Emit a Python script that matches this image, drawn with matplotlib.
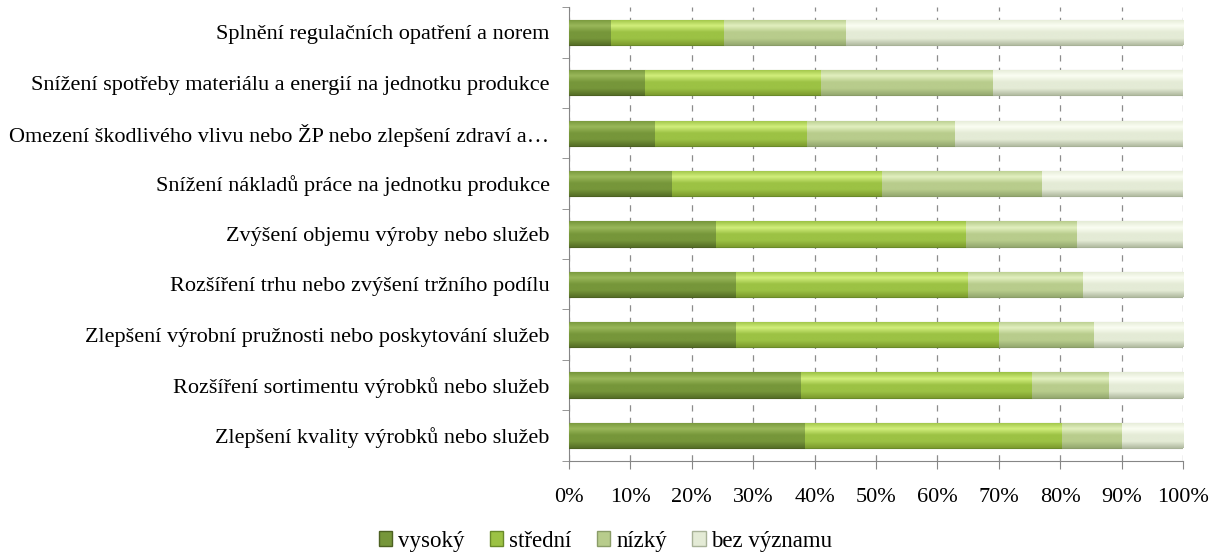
import numpy as np
import matplotlib
matplotlib.use("Agg")
import matplotlib.pyplot as plt
from matplotlib.colors import LinearSegmentedColormap
from matplotlib.patches import Patch

plt.rcParams['font.family'] = ['Liberation Serif', 'DejaVu Serif']

# categories from bottom to top
categories = [
    "Zlepšení kvality výrobků nebo služeb",
    "Rozšíření sortimentu výrobků nebo služeb",
    "Zlepšení výrobní pružnosti nebo poskytování služeb",
    "Rozšíření trhu nebo zvýšení tržního podílu",
    "Zvýšení objemu výroby nebo služeb",
    "Snížení nákladů práce na jednotku produkce",
    "Omezení škodlivého vlivu nebo ŽP nebo zlepšení zdraví a…",
    "Snížení spotřeby materiálu a energií na jednotku produkce",
    "Splnění regulačních opatření a norem",
]
vysoky = [38.4, 37.7, 27.2, 27.2, 24.0, 16.8, 14.0, 12.4, 6.8]
stredni = [41.9, 37.7, 42.8, 37.8, 40.7, 34.2, 24.7, 28.7, 18.5]
nizky = [9.7, 12.5, 15.5, 18.7, 18.1, 26.1, 24.2, 28.0, 19.8]
bez_vyznamu = [10.0, 12.1, 14.5, 16.3, 17.2, 22.9, 37.1, 30.9, 54.9]

series = [vysoky, stredni, nizky, bez_vyznamu]
labels = ["vysoký", "střední", "nízký", "bez významu"]
# (bottom, middle, top highlight) colours per series
shades = [
    ("#566f27", "#76963a", "#9ab85a"),
    ("#7d9c2e", "#9cc244", "#d2ef7c"),
    ("#95a970", "#b8cc8c", "#e2f0c0"),
    ("#b3bca2", "#e4ebd6", "#fbfef3"),
]
edges = ["#4d6122", "#6a8a2a", "#8a9c68", "#a8b298"]

fig = plt.figure(figsize=(12.11, 5.53), dpi=100)
ax = fig.add_axes([0.4699, 0.167, 0.5070, 0.820])

y = np.arange(len(categories))
left = np.zeros(len(categories))
grad = np.linspace(0, 1, 64).reshape(-1, 1)
for vals, lab, sh, ec in zip(series, labels, shades, edges):
    bars = ax.barh(y, vals, left=left, height=0.5, color=sh[1],
                   edgecolor=ec, linewidth=0.8, label=lab, zorder=3)
    cmap = LinearSegmentedColormap.from_list(
        lab, [sh[0], sh[1], sh[1], sh[2], sh[1]], N=256)
    for b in bars:
        x0, y0 = b.get_x(), b.get_y()
        im = ax.imshow(grad, cmap=cmap, aspect='auto', origin='lower',
                       extent=(x0, x0 + b.get_width(), y0, y0 + b.get_height()),
                       zorder=3.5, interpolation='bilinear')
        im.set_clip_path(b)
    left += np.array(vals)

ax.set_xlim(0, 100)
ax.set_ylim(-0.5, len(categories) - 0.5)
ax.set_xticks(np.arange(0, 101, 10))
ax.set_xticklabels([f"{v}%" for v in range(0, 101, 10)], fontsize=16)
ax.set_yticks(y)
ax.set_yticklabels(categories, fontsize=16)
ax.set_yticks(np.arange(-0.5, len(categories), 1), minor=True)
ax.tick_params(axis='y', which='major', length=0, pad=14)
ax.tick_params(axis='y', which='minor', length=5, color='#868686')
ax.tick_params(axis='x', length=6, color='#868686', pad=14)

ax.grid(axis='x', color='#8c8c8c', linestyle=(0, (5, 5)), linewidth=0.9, zorder=0)
ax.set_axisbelow(True)
for s in ['top', 'right']:
    ax.spines[s].set_visible(False)
for s in ['left', 'bottom']:
    ax.spines[s].set_color('#868686')

handles = [Patch(facecolor=sh[1], edgecolor=ec, label=lab)
           for sh, ec, lab in zip(shades, edges, labels)]
fig.legend(handles=handles, loc='lower center', bbox_to_anchor=(0.5, -0.035),
           ncol=4, frameon=False, fontsize=16.5, handlelength=0.6,
           handleheight=0.6, handletextpad=0.25, columnspacing=1.1)

fig.savefig("out.png", dpi=100)
